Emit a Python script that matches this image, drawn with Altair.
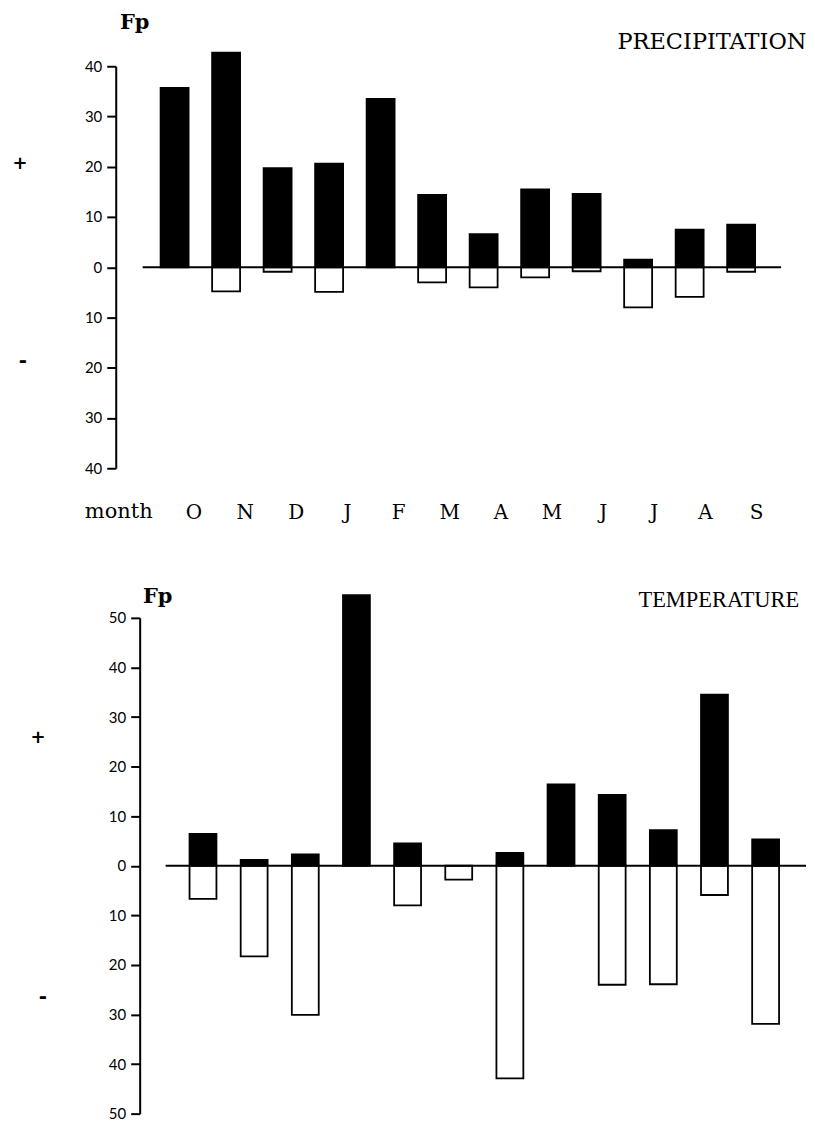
import json
import altair as alt
import pandas as pd

# ---- data ----
months = ["O", "N", "D", "J", "F", "M", "A", "M", "J", "J", "A", "S"]
precip_pos = [35.7, 42.7, 19.7, 20.6, 33.5, 14.4, 6.6, 15.5, 14.6, 1.5, 7.5, 8.5]
precip_neg = [0, 4.8, 0.9, 4.9, 0, 3.0, 4.0, 2.0, 0.8, 8.0, 5.9, 0.9]
temp_pos = [6.4, 1.2, 2.3, 54.6, 4.5, 0, 2.6, 16.4, 14.3, 7.2, 34.5, 5.3]
temp_neg = [6.7, 18.3, 30.1, 0, 8.0, 2.8, 42.9, 0, 24.0, 23.9, 5.9, 31.9]
precip_ticks = [-40, -30, -20, -10, 0, 10, 20, 30, 40]
temp_ticks = [-50, -40, -30, -20, -10, 0, 10, 20, 30, 40, 50]


def frame(pos, neg):
    rows = []
    for i, (p, n) in enumerate(zip(pos, neg)):
        if p > 0:
            rows.append({"idx": i, "month": months[i], "value": p})
        if n > 0:
            rows.append({"idx": i, "month": months[i], "value": -n})
    return pd.DataFrame(rows)


def label(text, x, y, font, size, weight="normal", align="center", baseline="alphabetic"):
    return alt.Chart(pd.DataFrame({"t": [text]})).mark_text(
        font=font, fontSize=size, fontWeight=weight, align=align,
        baseline=baseline, color="black"
    ).encode(text="t:N", x=alt.value(x), y=alt.value(y))


def yaxis(ticks, offset):
    return alt.Axis(values=ticks, labelExpr="abs(datum.value)", offset=offset,
                    tickSize=9, tickWidth=2, domainWidth=2, labelPadding=5,
                    labelFont="Lato", labelFontSize=15, grid=False, title=None,
                    domainColor="black", tickColor="black", labelColor="black")


month_expr = json.dumps(months) + "[datum.value]"

# ---- precipitation panel ----
pdf = frame(precip_pos, precip_neg)
top_bars = alt.Chart(pdf).mark_bar(stroke="black", strokeWidth=1.8).encode(
    x=alt.X("idx:O", scale=alt.Scale(range=[18, 614], paddingInner=0.457, paddingOuter=0), axis=None),
    y=alt.Y("value:Q", scale=alt.Scale(domain=[-40, 40], nice=False), axis=yaxis(precip_ticks, 27)),
    fill=alt.condition("datum.value > 0", alt.value("black"), alt.value("white")),
)
top_rule = alt.Chart(pd.DataFrame({"z": [0]})).mark_rule(color="black", strokeWidth=2).encode(
    y=alt.Y("z:Q", scale=alt.Scale(domain=[-40, 40], nice=False)),
    x=alt.value(0), x2=alt.value(640)
)
top = alt.layer(
    top_bars, top_rule,
    label("Fp", -8, -54, "DejaVu Serif", 21, "bold", baseline="top"),
    label("PRECIPITATION", 476, -17, "DejaVu Serif", 22.5, align="left"),
    label("+", -123, 98, "DejaVu Sans", 18, "bold", baseline="middle"),
    label("-", -120, 296, "DejaVu Sans", 20, "bold", baseline="middle"),
).properties(width=640, height=403)

# ---- temperature panel ----
tdf = frame(temp_pos, temp_neg)
bot_bars = alt.Chart(tdf).mark_bar(stroke="black", strokeWidth=1.8).encode(
    x=alt.X("idx:O", scale=alt.Scale(range=[47, 638], paddingInner=0.474, paddingOuter=0),
            axis=alt.Axis(orient="top", labelExpr=month_expr, domain=False, ticks=False,
                          labelPadding=100, labelBaseline="alphabetic", labelAngle=0,
                          labelOffset=-9, labelFont="DejaVu Serif", labelFontSize=20,
                          labelColor="black", title=None)),
    y=alt.Y("value:Q", scale=alt.Scale(domain=[-50, 50], nice=False), axis=yaxis(temp_ticks, 3)),
    fill=alt.condition("datum.value > 0", alt.value("black"), alt.value("white")),
)
bot_rule = alt.Chart(pd.DataFrame({"z": [0]})).mark_rule(color="black", strokeWidth=2).encode(
    y=alt.Y("z:Q", scale=alt.Scale(domain=[-50, 50], nice=False)),
    x=alt.value(23), x2=alt.value(665)
)
bottom = alt.layer(
    bot_bars, bot_rule,
    label("month", -24, -100, "DejaVu Serif", 21),
    label("Fp", 15, -15, "DejaVu Serif", 21, "bold"),
    label("TEMPERATURE", 497, -11, "Liberation Serif", 22.5, align="left"),
    label("+", -105, 120, "DejaVu Sans", 18, "bold", baseline="middle"),
    label("-", -100, 380, "DejaVu Sans", 20, "bold", baseline="middle"),
).properties(width=665, height=497)

chart = alt.vconcat(top, bottom, spacing=150, bounds="flush").configure_view(
    stroke=None
).properties(
    padding={"left": 4, "top": 3, "right": 0, "bottom": 0},
    background="white",
)

chart.save("out.html", embed_options={"renderer": "svg", "actions": False})
